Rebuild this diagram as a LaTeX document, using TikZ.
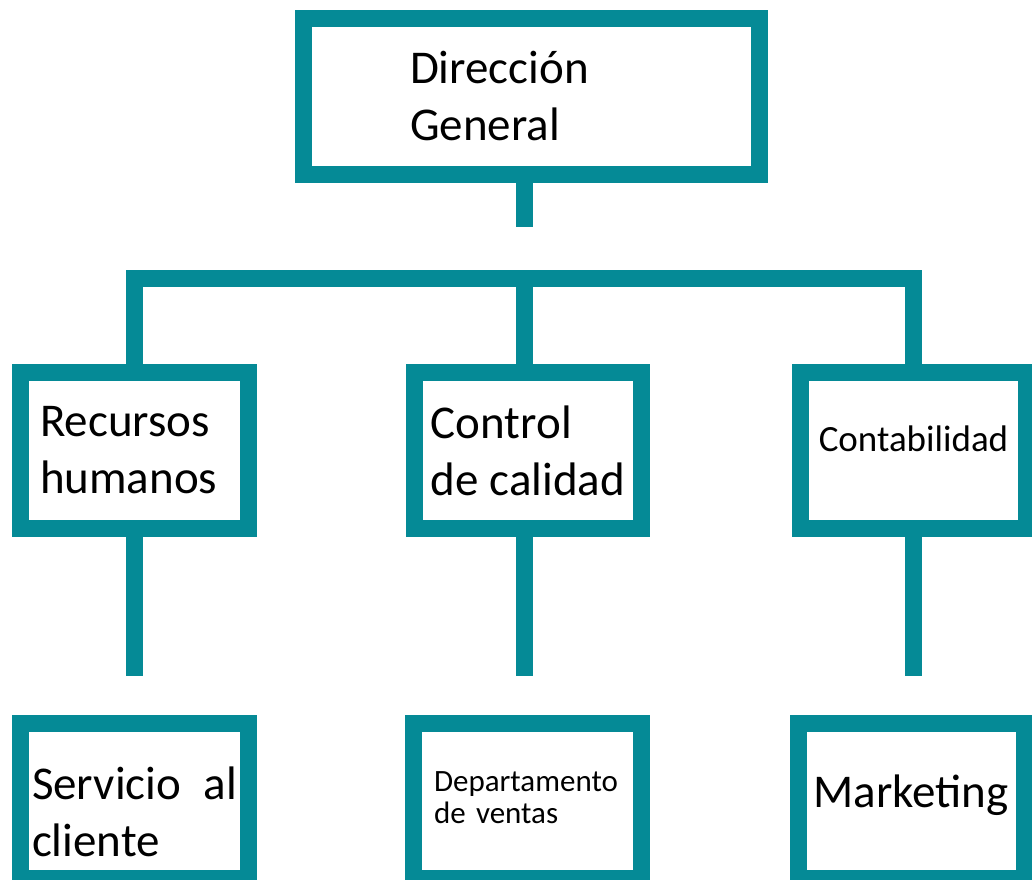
\documentclass[tikz,border=0pt]{standalone}
\usepackage{fontspec}
\setmainfont{Carlito}
\definecolor{orgteal}{RGB}{5,138,150}

\begin{document}
\begin{tikzpicture}[x=1pt,y=1pt,
   box/.style={draw=orgteal,line width=17pt,inner sep=0pt,
      minimum width=228pt,minimum height=155pt,align=left},
   big/.style={font=\fontsize{47}{57}\selectfont},
   link/.style={orgteal,line width=17pt}]
\useasboundingbox (0,0) rectangle (1032,879);
\node [box,big,minimum width=456pt,minimum height=156pt,text width=243pt]
   (dir) at (531.5,782.5) {Dirección\\General};
\node [box,big,text width=189pt] (rh) at (134.5,428.5) {Recursos\\humanos};
\node [box,big,minimum width=227pt] (cc) at (528,428.5)
   {Control\\de calidad};
\node [box,font=\fontsize{37}{45}\selectfont,minimum width=226pt,
   align=center,text depth=24pt] (cont) at (913.5,428.5) {Contabilidad};
\node [box,big,text width=205pt,text height=55pt] (sc) at (134.5,78)
   {Servicio\hfill al\\cliente};
\node [box,font=\fontsize{31}{32}\selectfont,minimum width=228pt,
   text width=186pt,text height=14pt] (dv) at (527,78)
   {Departamento\\de ventas};
\node [box,big,minimum width=226pt,align=center,text depth=20pt] (mk)
   at (911,78) {Marketing};
\coordinate (bar) at (524,600);
\coordinate (dirend) at (524,652);
\coordinate (stemend) at (0,203);
\draw [link] (dirend |- dir.south) -- (dirend);
\draw [link] (rh.north) |- (bar) -| (cont.north);
\draw [link] (bar) -- (bar |- cc.north);
\draw [link] (rh.south) -- (rh.south |- stemend);
\draw [link] (bar |- cc.south) -- (bar |- stemend);
\draw [link] (cont.south) -- (cont.south |- stemend);
\end{tikzpicture}
\end{document}
